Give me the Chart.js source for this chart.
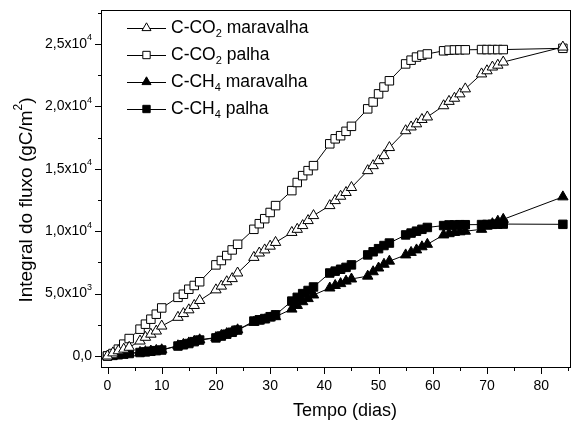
<!DOCTYPE html>
<html lang="pt">
<head>
<meta charset="UTF-8">
<title>Integral do fluxo</title>
<script src="https://cdn.jsdelivr.net/npm/chart.js@4.4.1/dist/chart.umd.min.js"></script>
<style>
  body { margin: 0; background: #fff; }
  #wrap { width: 578px; height: 423px; }
</style>
</head>
<body>
<div id="wrap"><canvas id="grafico" width="578" height="423"></canvas></div>
<script>
// dias de medição (5 por semana)
var dias = [0,1,2,3,4, 6,7,8,9,10, 13,14,15,16,17, 20,21,22,23,24, 27,28,29,30,31,
            34,35,36,37,38, 41,42,43,44,45, 48,49,50,51,52, 55,56,57,58,59,
            62,63,64,65,66, 69,70,71,72,73, 84];

var co2Maravalha = [0,250,420,550,700, 1200,1500,1750,2000,2400, 3100,3400,3700,4050,4450,
                    5300,5600,5950,6200,6650, 7900,8250,8500,8800,9100, 9900,10150,10450,10850,11250,
                    12050,12450,12800,13100,13500, 14850,15250,15650,16050,16700,
                    18050,18350,18600,18950,19150, 20050,20400,20650,21000,21400,
                    22600,22850,23150,23300,23550, 24750];
var co2Palha = [0,200,550,950,1400, 2150,2550,2950,3350,3850, 4700,4950,5350,5650,5950,
                7300,7650,8050,8500,8950, 10150,10600,11000,11500,12050, 13250,13900,14450,14850,15250,
                17000,17400,17650,18000,18400, 19800,20350,21000,21550,22050,
                23400,23700,23950,24100,24200, 24450,24500,24520,24530,24530,
                24550,24550,24550,24550,24550, 24650];
var ch4Maravalha = [0,50,110,170,230, 290,350,400,450,500, 820,930,1050,1180,1300,
                    1480,1650,1800,1950,2100, 2700,2800,2900,3050,3150, 3760,4050,4350,4600,4890,
                    5450,5650,5800,6000,6170, 6400,6750,7050,7350,7600,
                    8100,8300,8500,8750,8950, 9700,9800,9900,9950,10000,
                    10150,10400,10600,10800,10950, 12750];
var ch4Palha = [0,50,100,150,200, 280,330,380,430,480, 800,900,1000,1150,1280,
                1450,1600,1750,1900,2080, 2800,2900,3000,3150,3300, 4400,4700,5000,5250,5530,
                6650,6800,6950,7100,7300, 8100,8350,8600,8850,9050,
                9700,9850,10000,10150,10300, 10450,10500,10500,10520,10520,
                10530,10540,10550,10560,10570, 10550];

// legenda: texto dividido para o subscrito
var legPre = ['C-CO', 'C-CO', 'C-CH', 'C-CH'];
var legSub = ['2', '2', '4', '4'];
var legPos = [' maravalha', ' palha', ' maravalha', ' palha'];

var xTicks = [0, 10, 20, 30, 40, 50, 60, 70, 80];
var yTicks = [0, 5000, 10000, 15000, 20000, 25000];
var yTickText = ['0,0', '5,0x10', '1,0x10', '1,5x10', '2,0x10', '2,5x10'];
var yTickExp = ['', '3', '4', '4', '4', '4'];

var FONTE = "'Liberation Sans', Arial, sans-serif";

function pares(ys) {
  return dias.map(function (d, i) { return { x: d, y: ys[i] }; });
}

var estilos = [
  { dados: co2Maravalha, ponto: 'triangle', cor: '#fff', r: 6 },
  { dados: co2Palha, ponto: 'rect', cor: '#fff', r: 6 },
  { dados: ch4Maravalha, ponto: 'triangle', cor: '#000', r: 6 },
  { dados: ch4Palha, ponto: 'rect', cor: '#000', r: 6 }
];

var datasets = estilos.map(function (e, i) {
  return {
    label: legPre[i] + legSub[i] + legPos[i],
    data: pares(e.dados),
    borderColor: '#000',
    borderWidth: 1,
    pointStyle: e.ponto,
    pointRadius: e.r,
    pointBackgroundColor: e.cor,
    pointBorderColor: '#000',
    pointBorderWidth: 1,
    tension: 0,
    clip: 8
  };
});

// eixos, marcas, rótulos e legenda no estilo Origin
var moldura = {
  id: 'moldura',
  afterDraw: function (chart) {
    var ctx = chart.ctx, a = chart.chartArea;
    var sx = chart.scales.x, sy = chart.scales.y;
    ctx.save();
    ctx.strokeStyle = '#000';
    ctx.lineWidth = 1;
    ctx.strokeRect(a.left + 0.5, a.top + 0.5, a.right - a.left - 1, a.bottom - a.top - 1);

    ctx.beginPath();
    for (var v = 0; v <= 85; v += 5) {
      var px = Math.round(sx.getPixelForValue(v)) + 0.5;
      var len = (v % 10 === 0) ? 6 : 3;
      ctx.moveTo(px, a.bottom);
      ctx.lineTo(px, a.bottom + len);
    }
    for (var w = 0; w <= 27500; w += 2500) {
      var py = Math.round(sy.getPixelForValue(w)) + 0.5;
      var l2 = (w % 5000 === 0) ? 6 : 3;
      ctx.moveTo(a.left, py);
      ctx.lineTo(a.left - l2, py);
    }
    ctx.stroke();

    ctx.fillStyle = '#000';
    ctx.textBaseline = 'middle';
    ctx.font = '14px ' + FONTE;
    ctx.textAlign = 'center';
    xTicks.forEach(function (t) {
      ctx.fillText(String(t), sx.getPixelForValue(t), 386);
    });

    yTicks.forEach(function (t, i) {
      var y = sy.getPixelForValue(t);
      var dir = 92;
      ctx.font = '9px ' + FONTE;
      var we = yTickExp[i] ? ctx.measureText(yTickExp[i]).width : 0;
      ctx.textAlign = 'left';
      if (yTickExp[i]) ctx.fillText(yTickExp[i], dir - we, y - 6);
      ctx.font = '14px ' + FONTE;
      ctx.textAlign = 'right';
      ctx.fillText(yTickText[i], dir - we, y);
    });

    // títulos dos eixos
    ctx.font = '18px ' + FONTE;
    ctx.textAlign = 'center';
    ctx.fillText('Tempo (dias)', 345, 411);

    ctx.save();
    ctx.translate(27, 200);
    ctx.rotate(-Math.PI / 2);
    ctx.font = '19px ' + FONTE;
    var t1 = 'Integral do fluxo (gC/m', t2 = '2', t3 = ')';
    var w1 = ctx.measureText(t1).width, w3 = ctx.measureText(t3).width;
    ctx.font = '12px ' + FONTE;
    var w2 = ctx.measureText(t2).width;
    var x0 = -(w1 + w2 + w3) / 2;
    ctx.textAlign = 'left';
    ctx.font = '19px ' + FONTE;
    ctx.fillText(t1, x0, 0);
    ctx.fillText(t3, x0 + w1 + w2, 0);
    ctx.font = '12px ' + FONTE;
    ctx.fillText(t2, x0 + w1, -8);
    ctx.restore();

    // legenda
    var yl = [28, 55, 82, 109];
    estilos.forEach(function (e, i) {
      var y = yl[i];
      ctx.beginPath();
      ctx.moveTo(127, y + 0.5);
      ctx.lineTo(166, y + 0.5);
      ctx.stroke();
      ctx.fillStyle = e.cor;
      ctx.strokeStyle = '#000';
      ctx.lineWidth = 1;
      Chart.helpers.drawPoint(ctx, { pointStyle: e.ponto, radius: e.r - 0.8, borderWidth: 1 }, 146.5, y);
      ctx.fillStyle = '#000';
      ctx.textAlign = 'left';
      ctx.font = '17.5px ' + FONTE;
      var x = 171;
      ctx.fillText(legPre[i], x, y);
      x += ctx.measureText(legPre[i]).width;
      ctx.font = '11px ' + FONTE;
      ctx.fillText(legSub[i], x, y + 6);
      x += ctx.measureText(legSub[i]).width;
      ctx.font = '17.5px ' + FONTE;
      ctx.fillText(legPos[i], x, y);
    });
    ctx.restore();
  }
};

new Chart(document.getElementById('grafico'), {
  type: 'line',
  data: { datasets: datasets },
  options: {
    responsive: false,
    devicePixelRatio: 1,
    animation: false,
    layout: { padding: { top: 10, right: 3, left: 0, bottom: 0 } },
    plugins: { legend: { display: false }, tooltip: { enabled: false } },
    scales: {
      x: {
        type: 'linear', min: -1.2, max: 85.5,
        grid: { display: false }, border: { display: false },
        ticks: { display: false },
        afterFit: function (s) { s.height = 55; }
      },
      y: {
        type: 'linear', min: -960, max: 27720,
        grid: { display: false }, border: { display: false },
        ticks: { display: false },
        afterFit: function (s) { s.width = 101; }
      }
    }
  },
  plugins: [moldura]
});
</script>
</body>
</html>
